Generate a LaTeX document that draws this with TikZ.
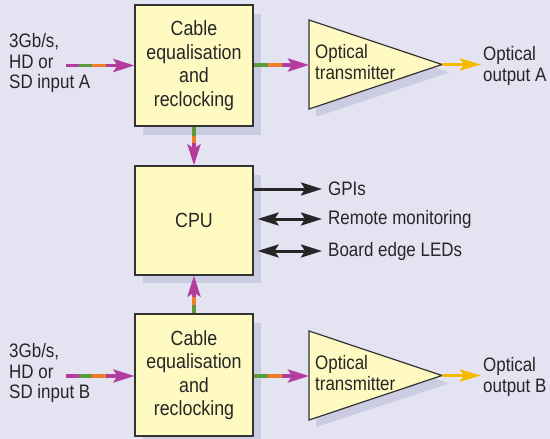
\documentclass[tikz,border=0pt]{standalone}
\usepackage{fontspec}
\setmainfont{Liberation Sans}[FakeStretch=0.87]
\usetikzlibrary{arrows.meta,calc}
\definecolor{bg}{HTML}{E3E3F1}
\definecolor{shadowc}{HTML}{CBCBE2}
\definecolor{boxfill}{HTML}{FFFAC2}
\definecolor{border}{HTML}{333333}
\definecolor{txt}{HTML}{262626}
\definecolor{mag}{HTML}{B33D9C}
\definecolor{grn}{HTML}{5C9A3C}
\definecolor{org}{HTML}{F07D2A}
\definecolor{ylw}{HTML}{F6B900}
\begin{document}
\begin{tikzpicture}[x=1pt,y=-1pt,
  box/.style={draw=border,line width=1.2pt,fill=boxfill,minimum width=118pt,inner sep=0pt,align=center,text=txt,font=\fontsize{20.5}{23.5}\selectfont},
  lbl/.style={text=txt,align=left,inner sep=0pt,font=\fontsize{19.5}{20.8}\selectfont},
  sig/.style={line width=3.5pt,draw=mag,-{Stealth[length=21pt,width=13pt,inset=4pt]}},
  seg/.style={line width=3.5pt,line cap=butt},
  ctl/.style={line width=3pt,draw=txt,-{Stealth[length=21pt,width=13pt,inset=4pt]}},
  ctlb/.style={line width=3pt,draw=txt,{Stealth[length=21pt,width=13pt,inset=4pt]}-{Stealth[length=21pt,width=13pt,inset=4pt]}},
  opt/.style={line width=3.5pt,draw=ylw,-{Stealth[length=21pt,width=12pt,inset=4pt]}},
  tri/.style={draw=border,line width=1.2pt,fill=boxfill,line join=miter},
  shd/.style={fill=shadowc}]
\useasboundingbox[fill=bg] (0,0) rectangle (550,439);
% shadows
\fill[shd] (143,14) rectangle (261,135);
\fill[shd] (143,175) rectangle (261,283);
\fill[shd] (143,323) rectangle (261,445);
\fill[shd] (316,28) -- (449,72.5) -- (316,117) -- cycle;
\fill[shd] (316,339) -- (449,383.5) -- (316,427) -- cycle;
% blocks
\node[box,minimum height=121pt] (boxA) at (194,65.5) {Cable\\equalisation\\and\\reclocking};
\node[box,minimum height=109pt] (cpu) at (194,220.5) {CPU};
\node[box,minimum height=122pt] (boxB) at (194,375) {Cable\\equalisation\\and\\reclocking};
\draw[tri] (309,20) -- (442,64.5) -- (309,109) -- cycle;
\draw[tri] (309,331) -- (442,375.5) -- (309,420) -- cycle;
\coordinate (triAin) at (309,65);
\coordinate (triAtip) at (442,64.5);
\coordinate (triBin) at (309,376);
\coordinate (triBtip) at (442,375.5);
\node[lbl,anchor=west] (triAtxt) at (315,62) {Optical\\transmitter};
\node[lbl,anchor=west] (triBtxt) at (315,373) {Optical\\transmitter};
% labels
\node[lbl,anchor=west] (inA) at (9,63) {3Gb/s,\\HD or\\SD input A};
\node[lbl,anchor=west] (inB) at (9,373) {3Gb/s,\\HD or\\SD input B};
\node[lbl,anchor=west,inner xsep=2pt] (outA) at (481,66) {Optical\\output A};
\node[lbl,anchor=west,inner xsep=2pt] (outB) at (481,377) {Optical\\output B};
\node[lbl,anchor=west,inner xsep=6pt] (gpis) at (322,189) {GPIs};
\node[lbl,anchor=west,inner xsep=6pt] (rem) at (322,219) {Remote monitoring};
\node[lbl,anchor=west,inner xsep=6pt] (leds) at (322,251) {Board edge LEDs};
% input A
\coordinate (sA) at ($(boxA.west)+(-68,0)$);
\draw[sig] (sA) -- (boxA.west);
\draw[seg,grn] ($(sA)+(13,0)$) -- ($(sA)+(26,0)$);
\draw[seg,org] ($(sA)+(26,0)$) -- ($(sA)+(40,0)$);
% input B
\coordinate (sB) at ($(boxB.west)+(-68,1)$);
\draw[sig] (sB) -- (sB -| boxB.west);
\draw[seg,grn] ($(sB)+(13,0)$) -- ($(sB)+(26,0)$);
\draw[seg,org] ($(sB)+(26,0)$) -- ($(sB)+(40,0)$);
% box to transmitter
\draw[sig] (triAin -| boxA.east) -- (triAin);
\draw[seg,grn] (triAin -| boxA.east) -- ++(14,0);
\draw[seg,org] ($(triAin -| boxA.east)+(14,0)$) -- ++(14,0);
\draw[sig] (triBin -| boxB.east) -- (triBin);
\draw[seg,grn] (triBin -| boxB.east) -- ++(14,0);
\draw[seg,org] ($(triBin -| boxB.east)+(14,0)$) -- ++(14,0);
% box to cpu
\draw[sig] (boxA.south) -- (cpu.north);
\draw[seg,grn] (boxA.south) -- ++(0,9);
\draw[seg,org] ($(boxA.south)+(0,9)$) -- ++(0,7);
\draw[sig] (boxB.north) -- (cpu.south);
\draw[seg,grn] (boxB.north) -- ++(0,-8);
\draw[seg,org] ($(boxB.north)+(0,-8)$) -- ++(0,-8);
% optical outputs
\draw[opt] (triAtip) -- (triAtip -| outA.west);
\draw[opt] (triBtip) -- (triBtip -| outB.west);
% cpu control
\draw[ctl] (gpis.west -| cpu.east) -- (gpis.west);
\draw[ctlb] ($(rem.west -| cpu.east)+(4,0)$) -- (rem.west);
\draw[ctlb] ($(leds.west -| cpu.east)+(4,0)$) -- (leds.west);
\end{tikzpicture}
\end{document}
